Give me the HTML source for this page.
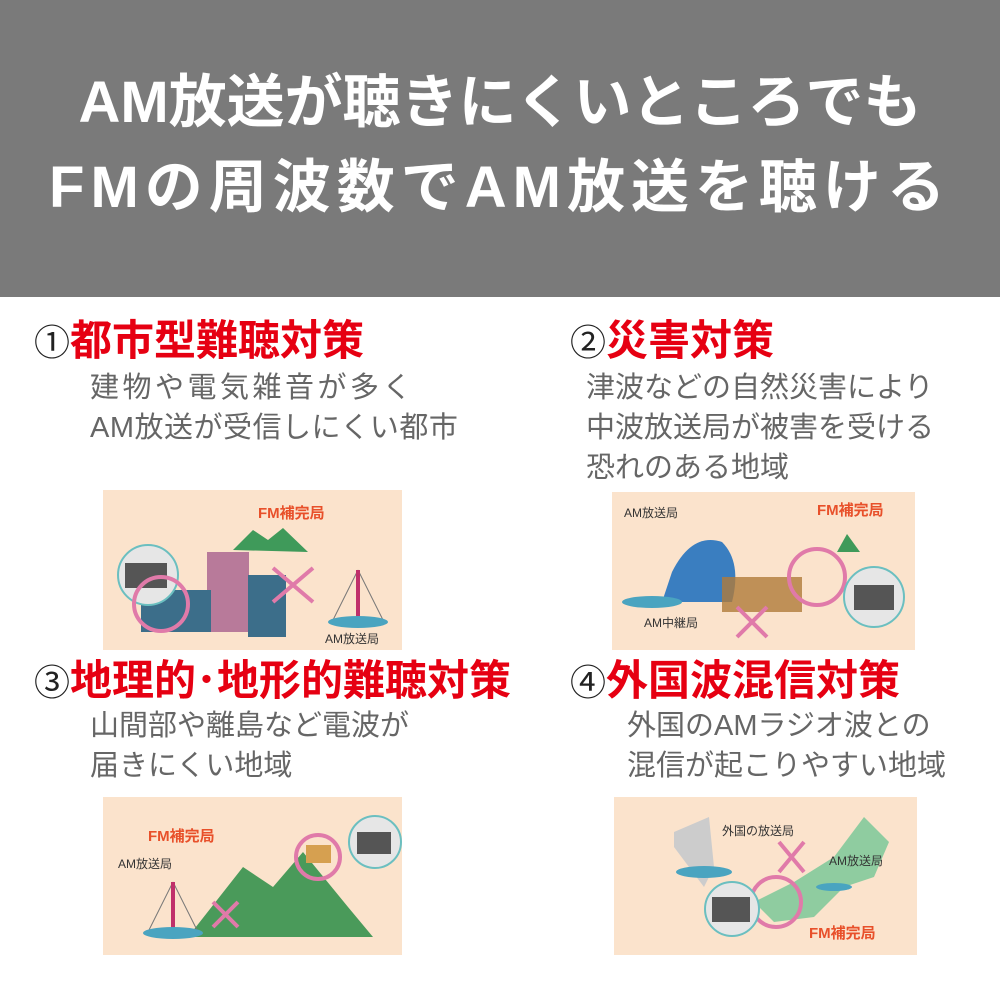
<!DOCTYPE html>
<html><head><meta charset="utf-8"><style>
body{margin:0;width:1000px;height:1000px;background:#fff;position:relative;overflow:hidden;font-family:"Liberation Sans","Noto Sans CJK JP",sans-serif}
.hd{position:absolute;left:0;top:0;width:1000px;height:297px;background:#7a7a7a}
.t{position:absolute;left:0;width:1000px;text-align:center;color:#fff;font-weight:bold;font-size:58px;line-height:60px;white-space:nowrap}
.h{position:absolute;font-weight:bold;font-size:42px;line-height:44px;white-space:nowrap;color:#e60012}
.h span{color:#222;font-weight:normal;font-size:36px}
.d{position:absolute;font-size:29px;line-height:40px;color:#666;white-space:nowrap}
.im{position:absolute;background:#fbe3cc}
.im svg{position:absolute;left:0;top:0}
.lb{position:absolute;font-size:12px;color:#333;white-space:nowrap}
.lr{position:absolute;font-size:15px;color:#e8502a;font-weight:bold;white-space:nowrap}
</style></head><body>
<div class="hd"></div>
<div class="t" style="top:73px;letter-spacing:0px">AM放送が聴きにくいところでも</div>
<div class="t" style="top:158px;letter-spacing:6px">FMの周波数でAM放送を聴ける</div>

<div class="h" style="left:34px;top:319px"><span>①</span>都市型難聴対策</div>
<div class="d" style="left:90px;top:368px;letter-spacing:3.5px">建物や電気雑音が多く</div>
<div class="d" style="left:90px;top:408px;letter-spacing:0.5px">AM放送が受信しにくい都市</div>
<div class="h" style="left:570px;top:319px"><span>②</span>災害対策</div>
<div class="d" style="left:586px;top:368px">津波などの自然災害により<br>中波放送局が被害を受ける<br>恐れのある地域</div>
<div class="h" style="left:34px;top:659px"><span>③</span>地理的･地形的難聴対策</div>
<div class="d" style="left:90px;top:706px">山間部や離島など電波が<br>届きにくい地域</div>
<div class="h" style="left:570px;top:659px"><span>④</span>外国波混信対策</div>
<div class="d" style="left:627px;top:706px">外国のAMラジオ波との<br>混信が起こりやすい地域</div>

<div class="im" style="left:103px;top:490px;width:299px;height:160px">
<svg width="299" height="160">
<polygon points="130,60 150,40 165,50 180,38 205,62" fill="#3f9a5a"/>
<rect x="104" y="62" width="42" height="80" fill="#b87a9a"/>
<rect x="145" y="85" width="38" height="62" fill="#3c6e8a"/>
<rect x="38" y="100" width="70" height="42" fill="#3c6e8a"/>
<circle cx="45" cy="85" r="30" fill="#e6e6e6" stroke="#6bbfc0" stroke-width="2"/>
<rect x="22" y="73" width="42" height="25" fill="#555"/>
<circle cx="58" cy="114" r="27" fill="none" stroke="#e07aa9" stroke-width="4"/>
<path d="M170 78 L210 112 M210 78 L170 112" stroke="#e07aa9" stroke-width="4"/>
<path d="M255 80 L230 130 M255 80 L280 130" stroke="#777"/>
<rect x="253" y="80" width="4" height="52" fill="#c0306a"/>
<ellipse cx="255" cy="132" rx="30" ry="6" fill="#4aa4c0"/>
</svg>
<div class="lr" style="left:155px;top:12px">FM補完局</div>
<div class="lb" style="left:222px;top:140px">AM放送局</div></div>

<div class="im" style="left:612px;top:492px;width:303px;height:158px">
<svg width="303" height="158">
<path d="M60 80 Q80 40 110 50 Q130 70 120 110 L50 110 Z" fill="#3a7ec0"/>
<ellipse cx="40" cy="110" rx="30" ry="6" fill="#4aa4c0"/>
<rect x="110" y="85" width="80" height="35" fill="#b07a3a" opacity=".8"/>
<circle cx="205" cy="85" r="28" fill="none" stroke="#e07aa9" stroke-width="4"/>
<path d="M125 115 L155 145 M155 115 L125 145" stroke="#e07aa9" stroke-width="4"/>
<circle cx="262" cy="105" r="30" fill="#e6e6e6" stroke="#6bbfc0" stroke-width="2"/>
<rect x="242" y="93" width="40" height="25" fill="#555"/>
<polygon points="225,60 235,42 248,60" fill="#3f9a5a"/>
</svg>
<div class="lb" style="left:12px;top:12px">AM放送局</div>
<div class="lr" style="left:205px;top:7px">FM補完局</div>
<div class="lb" style="left:32px;top:122px">AM中継局</div></div>

<div class="im" style="left:103px;top:797px;width:299px;height:158px">
<svg width="299" height="158">
<polygon points="85,140 140,70 170,90 200,55 245,110 270,140" fill="#4a9a5a"/>
<rect x="203" y="48" width="25" height="18" fill="#d6a050"/>
<circle cx="215" cy="60" r="22" fill="none" stroke="#e07aa9" stroke-width="4"/>
<circle cx="272" cy="45" r="26" fill="#e6e6e6" stroke="#6bbfc0" stroke-width="2"/>
<rect x="254" y="35" width="34" height="22" fill="#555"/>
<path d="M110 105 L135 130 M135 105 L110 130" stroke="#e07aa9" stroke-width="4"/>
<path d="M70 85 L45 135 M70 85 L95 135" stroke="#777"/>
<rect x="68" y="85" width="4" height="50" fill="#c0306a"/>
<ellipse cx="70" cy="136" rx="30" ry="6" fill="#4aa4c0"/>
</svg>
<div class="lr" style="left:45px;top:28px">FM補完局</div>
<div class="lb" style="left:15px;top:58px">AM放送局</div></div>

<div class="im" style="left:614px;top:797px;width:303px;height:158px">
<svg width="303" height="158">
<path d="M60 35 L95 20 L100 70 L90 90 L60 50 Z" fill="#ccc"/>
<path d="M250 20 L275 45 L260 80 L230 90 L200 120 L160 125 L140 105 L180 85 L220 60 Z" fill="#8fcca0"/>
<ellipse cx="90" cy="75" rx="28" ry="6" fill="#4aa4c0"/>
<ellipse cx="220" cy="90" rx="18" ry="4" fill="#4aa4c0"/>
<path d="M165 45 L190 75 M190 45 L165 75" stroke="#e07aa9" stroke-width="4"/>
<circle cx="162" cy="105" r="25" fill="none" stroke="#e07aa9" stroke-width="4"/>
<circle cx="118" cy="112" r="27" fill="#e6e6e6" stroke="#6bbfc0" stroke-width="2"/>
<rect x="98" y="100" width="38" height="25" fill="#555"/>
</svg>
<div class="lb" style="left:108px;top:25px">外国の放送局</div>
<div class="lb" style="left:215px;top:55px">AM放送局</div>
<div class="lr" style="left:195px;top:125px">FM補完局</div></div>
</body></html>
